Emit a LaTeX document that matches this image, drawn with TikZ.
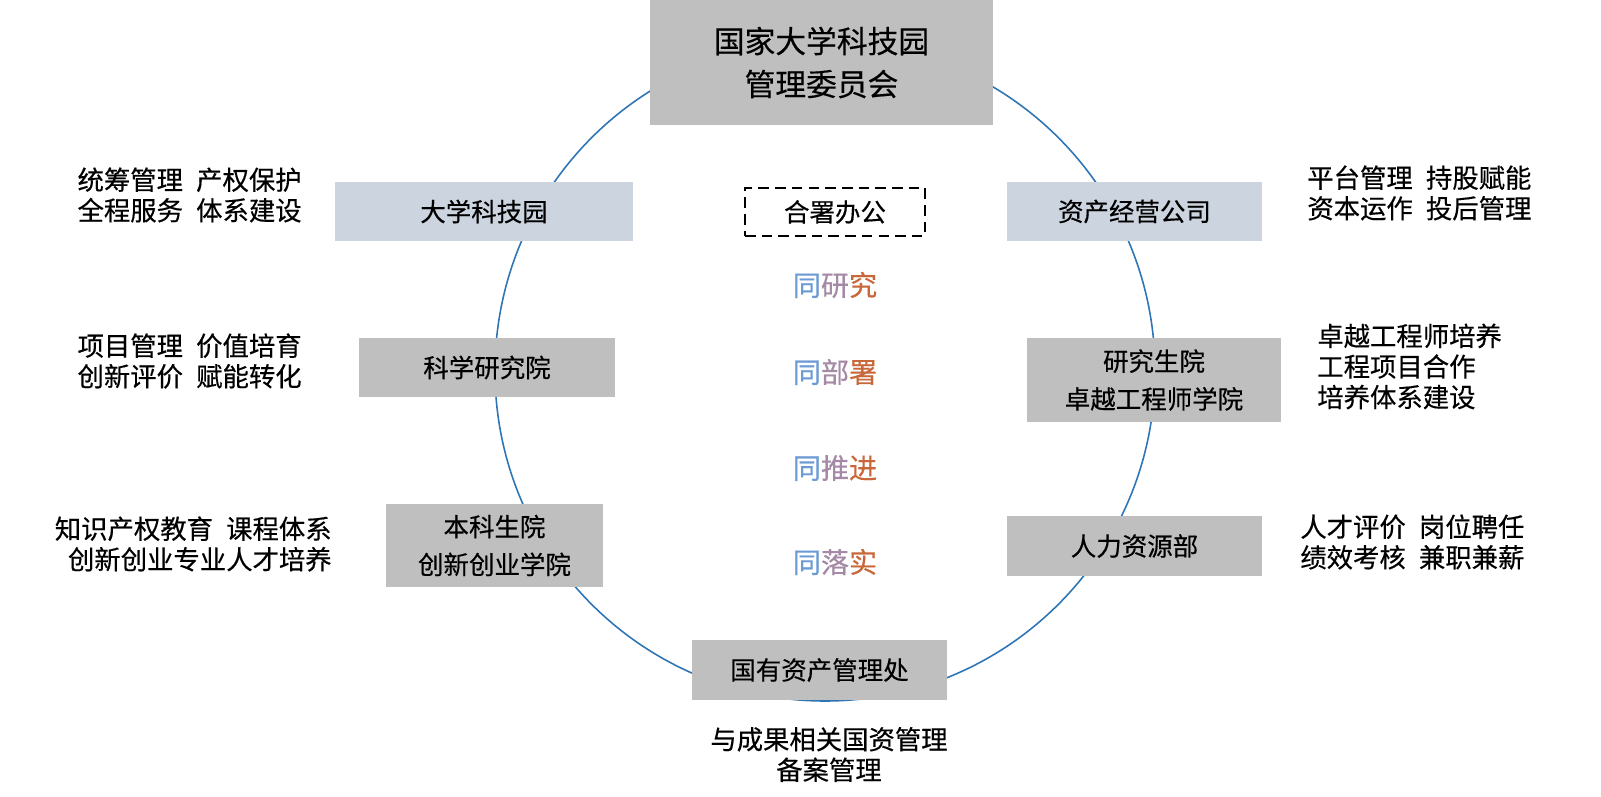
\documentclass[tikz,border=0pt]{standalone}
\usepackage{fontspec}
\setmainfont{Noto Sans CJK SC}[FakeBold=0.4]
\usepackage{tikz}
\definecolor{ringblue}{RGB}{46,117,182}
\definecolor{parkgray}{RGB}{204,213,223}
\definecolor{unitgray}{RGB}{191,191,191}
\definecolor{tongblue}{RGB}{108,155,212}
\definecolor{tongmauve}{RGB}{165,138,165}
\definecolor{tongorange}{RGB}{200,104,58}
\usetikzlibrary{
  arrows.meta,
  positioning,
  backgrounds
}
\newcommand{\tongtext}[3]{\textcolor{tongblue}{#1}\textcolor{tongmauve}{#2}\textcolor{tongorange}{#3}}

\begin{document}
\begin{tikzpicture}[
    unit/.style={
      rectangle, draw=none, fill=#1,
      minimum width=5.1cm, minimum height=1.18cm,
      align=center, font=\fontsize{14.5}{21.5}\selectfont, inner sep=0pt
    },
    unit/.default=unitgray,
    note/.style={font=\fontsize{15}{17.4}\selectfont, inner sep=0pt},
    tong/.style={font=\fontsize{16}{18}\selectfont, inner sep=0pt}
  ]

  \useasboundingbox (-16.5,-8.52) rectangle (15.52,7.42);

  %% Ring behind the units
  \draw[ringblue, line width=0.9pt] (0,0) circle (6.6);

  %% Committee on top
  \node[unit, minimum width=6.84cm, minimum height=2.5cm,
        font=\fontsize{17.5}{24.4}\selectfont] (committee) at (-0.07,6.17)
        {国家大学科技园\\管理委员会};

  %% Units round the ring
  \node[unit=parkgray, minimum width=5.96cm] (park)  at (-6.82,3.19)  {大学科技园};
  \node[unit=parkgray]                       (asset) at (6.19,3.19)   {资产经营公司};
  \node[unit, minimum width=5.12cm]          (sci)   at (-6.76,0.07)  {科学研究院};
  \node[unit, minimum width=5.08cm, minimum height=1.68cm] (grad) at (6.58,-0.18) {研究生院\\卓越工程师学院};
  \node[unit, minimum width=4.34cm, minimum height=1.66cm] (under) at (-6.61,-3.49) {本科生院\\创新创业学院};
  \node[unit, minimum height=1.2cm]          (hr)    at (6.19,-3.5)   {人力资源部};
  \node[unit, minimum height=1.2cm]          (state) at (-0.11,-5.98) {国有资产管理处};

  %% Joint office and the four "同"
  \node[draw, dash pattern=on 6pt off 3.5pt, line width=1.1pt,
        minimum width=3.6cm, minimum height=0.96cm,
        font=\fontsize{14.5}{17}\selectfont] (office) at (0.2,3.18) {合署办公};
  \node[tong] (t1) at (0.2,1.72)  {\tongtext{同}{研}{究}};
  \node[tong] (t2) at (0.2,-0.02) {\tongtext{同}{部}{署}};
  \node[tong] (t3) at (0.2,-1.94) {\tongtext{同}{推}{进}};
  \node[tong] (t4) at (0.2,-3.82) {\tongtext{同}{落}{实}};

  %% Duties beside each unit
  \node[note, align=right, anchor=east] (parkduty)  at (-10.46,3.52) {统筹管理\hspace{0.5em}产权保护\\全程服务\hspace{0.5em}体系建设};
  \node[note, align=right, anchor=east] (sciduty)   at (-10.46,0.2)  {项目管理\hspace{0.5em}价值培育\\创新评价\hspace{0.5em}赋能转化};
  \node[note, align=right, anchor=east] (underduty) at (-9.86,-3.46) {知识产权教育\hspace{0.5em}课程体系\\创新创业专业人才培养};
  \node[note, align=left, anchor=west]  (assetduty) at (9.64,3.56)   {平台管理\hspace{0.5em}持股赋能\\资本运作\hspace{0.5em}投后管理};
  \node[note, align=left, anchor=west]  (gradduty)  at (9.84,0.09)   {卓越工程师培养\\工程项目合作\\培养体系建设};
  \node[note, align=left, anchor=west]  (hrduty)    at (9.5,-3.42)   {人才评价\hspace{0.5em}岗位聘任\\绩效考核\hspace{0.5em}兼职兼薪};
  \node[note, align=center]             (stateduty) at (0.08,-7.67)  {与成果相关国资管理\\备案管理};

\end{tikzpicture}
\end{document}
